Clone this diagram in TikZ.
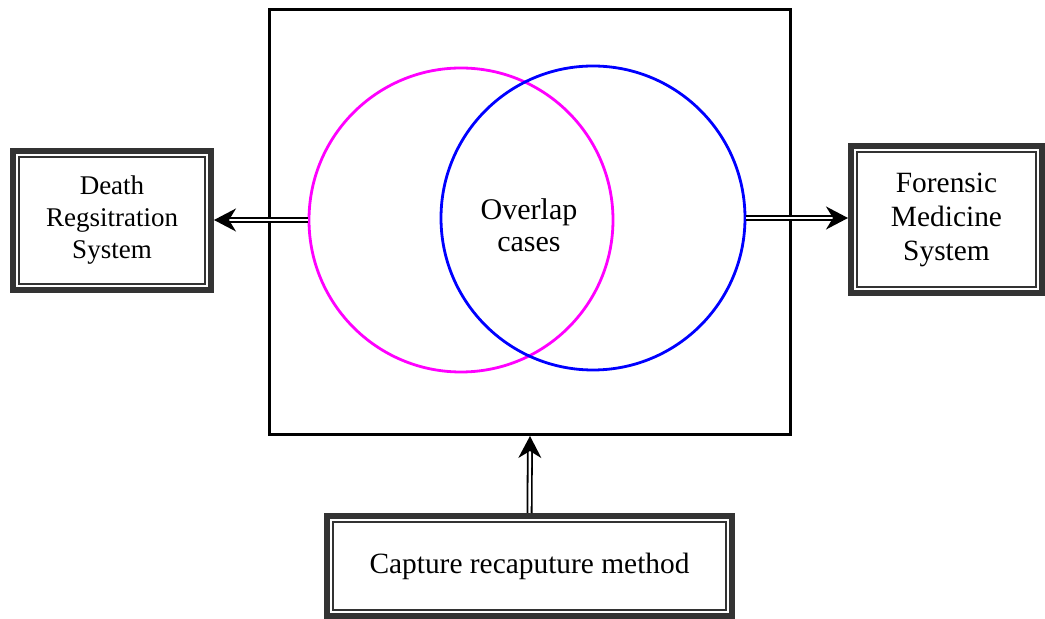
\documentclass[tikz,border=0pt]{standalone}
\usepackage{fontspec}
\setmainfont{Liberation Serif}
\usetikzlibrary{positioning, arrows.meta, shapes.geometric}
\definecolor{boxgray}{HTML}{333333}
\definecolor{setmag}{RGB}{255,0,255}
\definecolor{setblue}{RGB}{0,0,255}
\tikzset{%
	sys/.style = {draw = boxgray, line width = 3pt, align = center, inner sep = 0pt,
		path picture = {\draw [boxgray, line width = 0.9pt]
			([shift = {(3pt,3pt)}]path picture bounding box.south west) rectangle
			([shift = {(-3pt,-3pt)}]path picture bounding box.north east);}},
	set/.style = {circle, draw = #1, line width = 1.4pt, minimum size = 152pt, inner sep = 0pt},
	dbl/.style = {double, double distance = 1.2pt, line width = 0.9pt, -{Stealth[length = 11pt, width = 11.5pt, inset = 3.5pt]}}
}
\begin{document}
\begin{tikzpicture}[x = 0.5pt, y = -0.5pt]
	\useasboundingbox (0,0) rectangle (1045,619);
	\node [draw, line width = 1.5pt, minimum width = 260.5pt, minimum height = 212.5pt] (frame) at (530,222) {};
	\node [set = setmag] (A) at (461,220) {};
	\node [set = setblue] (B) at (593,218) {};
	\node [font = \fontsize{15}{16}\selectfont, align = center] (ov) at (529,225) {Overlap\\cases};
	\node [sys, minimum width = 99pt, minimum height = 69.5pt, font = \fontsize{13.5}{16}\selectfont] (drs) at (112,220.5) {Death\\Regsitration\\System};
	\node [sys, minimum width = 95.5pt, minimum height = 73.5pt, font = \fontsize{14.7}{17}\selectfont] (fms) at (946.5,219.5) {Forensic\\Medicine\\System};
	\node [sys, minimum width = 202.5pt, minimum height = 50pt, font = \fontsize{14.7}{17}\selectfont] (crm) at (529.5,566) {Capture recaputure method};
	\draw [dbl] (A.west) -- (A.west -| drs.east);
	\draw [dbl] (B.east) -- (B.east -| fms.west);
	\draw [dbl] (crm.north) -- (frame.south);
\end{tikzpicture}
\end{document}
